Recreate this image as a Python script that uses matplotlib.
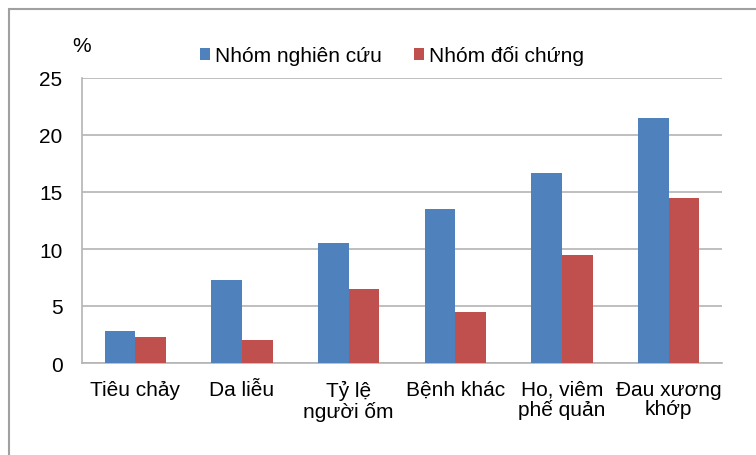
import matplotlib
matplotlib.use("Agg")
import matplotlib.pyplot as plt
import numpy as np
from matplotlib.patches import Rectangle

plt.rcParams['font.family'] = ['Liberation Sans', 'DejaVu Sans']

# data
categories = ["Tiêu chảy", "Da liễu", "Tỷ lệ\nngười ốm", "Bệnh khác",
              "Ho, viêm\nphế quản", "Đau xương\nkhớp"]
nghien_cuu = [2.8, 7.3, 10.5, 13.5, 16.7, 21.5]
doi_chung = [2.3, 2.0, 6.5, 4.5, 9.5, 14.5]
series_names = ["Nhóm nghiên cứu", "Nhóm đối chứng"]
y_ticks = [0, 5, 10, 15, 20, 25]

BLUE = "#4F81BD"
RED = "#C0504D"
GRID = "#B4B4B4"
FS = 15

fig = plt.figure(figsize=(7.56, 4.56), dpi=100)
ax = fig.add_axes([82 / 756, 1 - 364 / 456, 640 / 756, 285 / 456])

x = np.arange(len(categories))
w = 0.286
ax.bar(x - w / 2, nghien_cuu, w, color=BLUE, label=series_names[0], zorder=3)
ax.bar(x + w / 2, doi_chung, w, color=RED, label=series_names[1], zorder=3)

ax.set_xlim(-0.5, len(categories) - 0.5)
ax.set_ylim(0, 25)
ax.set_yticks(y_ticks)
ax.set_xticks(x)
ax.set_xticklabels(categories, fontsize=FS, linespacing=1.05)
ax.tick_params(axis='y', labelsize=FS, length=0, pad=14)
ax.tick_params(axis='x', length=0, pad=12)
ax.yaxis.grid(True, color=GRID, linewidth=1.2, zorder=0)
ax.set_axisbelow(True)

for side in ['top', 'right']:
    ax.spines[side].set_visible(False)
for side in ['left', 'bottom']:
    ax.spines[side].set_color(GRID)
    ax.spines[side].set_linewidth(1.2)

fig.text(82 / 756, 1 - 46 / 456, "%", fontsize=FS, ha='center', va='center')

ax.legend(loc='center', bbox_to_anchor=(392 / 756, 1 - 56 / 456),
          bbox_transform=fig.transFigure, ncol=2, frameon=False,
          fontsize=FS, handlelength=0.5, handleheight=0.5,
          handletextpad=0.25, columnspacing=1.5)

# outer border of the chart box (cut off at right and bottom)
fig.patches.append(Rectangle((9 / 756, -0.1), 1.2, 1.1 - 10 / 456,
                             transform=fig.transFigure, fill=False,
                             edgecolor="#A0A0A0", linewidth=1.5))

fig.savefig("out.png", dpi=100)
